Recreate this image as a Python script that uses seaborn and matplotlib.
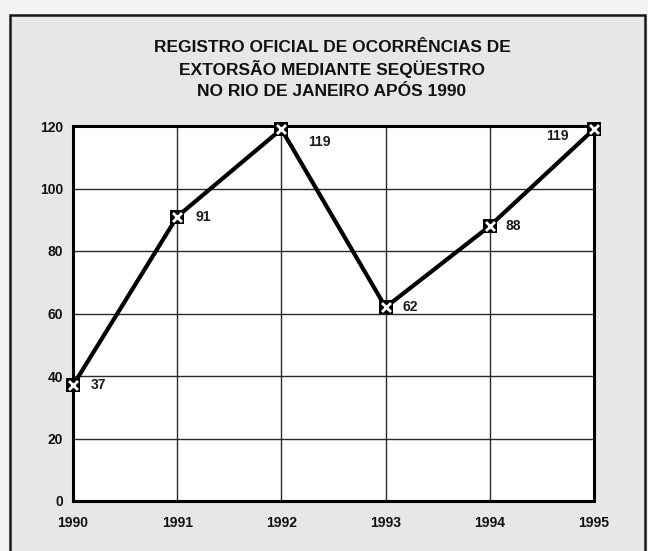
import matplotlib
matplotlib.use("Agg")
import matplotlib.pyplot as plt
import seaborn as sns
import pandas as pd
from matplotlib.patches import Rectangle

anos = [1990, 1991, 1992, 1993, 1994, 1995]
ocorrencias = [37, 91, 119, 62, 88, 119]
y_ticks = [0, 20, 40, 60, 80, 100, 120]
titulo = ["REGISTRO OFICIAL DE OCORRÊNCIAS DE",
          "EXTORSÃO MEDIANTE SEQÜESTRO",
          "NO RIO DE JANEIRO APÓS 1990"]

df = pd.DataFrame({"ano": anos, "ocorrencias": ocorrencias})

sns.set_theme(style="white")
plt.rcParams["font.family"] = ["Liberation Sans", "DejaVu Sans"]

W, H = 648, 551
fig = plt.figure(figsize=(W / 100, H / 100), dpi=100)
fig.patch.set_facecolor("#f3f3f1")

# gray panel with a dark frame, kept behind the axes
fig.patches.append(Rectangle((10 / W, -0.02), (645 - 10) / W, 1 - 15 / H + 0.02,
                             transform=fig.transFigure, facecolor="#e7e7e5",
                             edgecolor="#151515", linewidth=1.8, zorder=-10))

ax = fig.add_axes([73 / W, 1 - 501 / H, (594 - 73) / W, (501 - 126) / H])
ax.set_facecolor("white")
ax.set_zorder(1)

sns.lineplot(data=df, x="ano", y="ocorrencias", ax=ax, color="black",
             linewidth=3.0, zorder=3)
# boxed-cross markers: black square with a white cross
ax.scatter(df["ano"], df["ocorrencias"], marker="s", s=110, color="black",
           linewidths=0, zorder=4, clip_on=False)
ax.scatter(df["ano"], df["ocorrencias"], marker="x", s=42, color="white",
           linewidths=2.0, zorder=5, clip_on=False)

# value labels
offsets = [(13, 0, "left"), (13, 0, "left"), (19, -9, "left"),
           (12, 0, "left"), (11.5, 0, "left"), (-18, -5, "right")]
for x, y, (dx, dy, ha) in zip(anos, ocorrencias, offsets):
    ax.annotate(str(y), (x, y), xytext=(dx, dy), textcoords="offset points",
                ha=ha, va="center", fontsize=10, fontweight="bold",
                color="#1a1a1a")

ax.set_xlim(1990, 1995)
ax.set_ylim(0, 120)
ax.set_xticks(anos)
ax.set_yticks(y_ticks)
ax.grid(True, color="#2a2a2a", linewidth=1.0)
ax.set_axisbelow(True)
for s in ax.spines.values():
    s.set_visible(True)
    s.set_color("black")
    s.set_linewidth(2.2)
ax.tick_params(axis="both", labelsize=10, colors="#111111", length=0)
ax.tick_params(axis="y", pad=7)
ax.tick_params(axis="x", pad=11)
for lbl in ax.get_xticklabels() + ax.get_yticklabels():
    lbl.set_fontweight("bold")
ax.set_xlabel("")
ax.set_ylabel("")

for linha, yp in zip(titulo, [47, 69.5, 92]):
    fig.text(332 / W, 1 - yp / H, linha, ha="center", va="center",
             fontsize=12.5, fontweight="bold", color="#111111")

fig.savefig("out.png", dpi=100, facecolor=fig.get_facecolor())
